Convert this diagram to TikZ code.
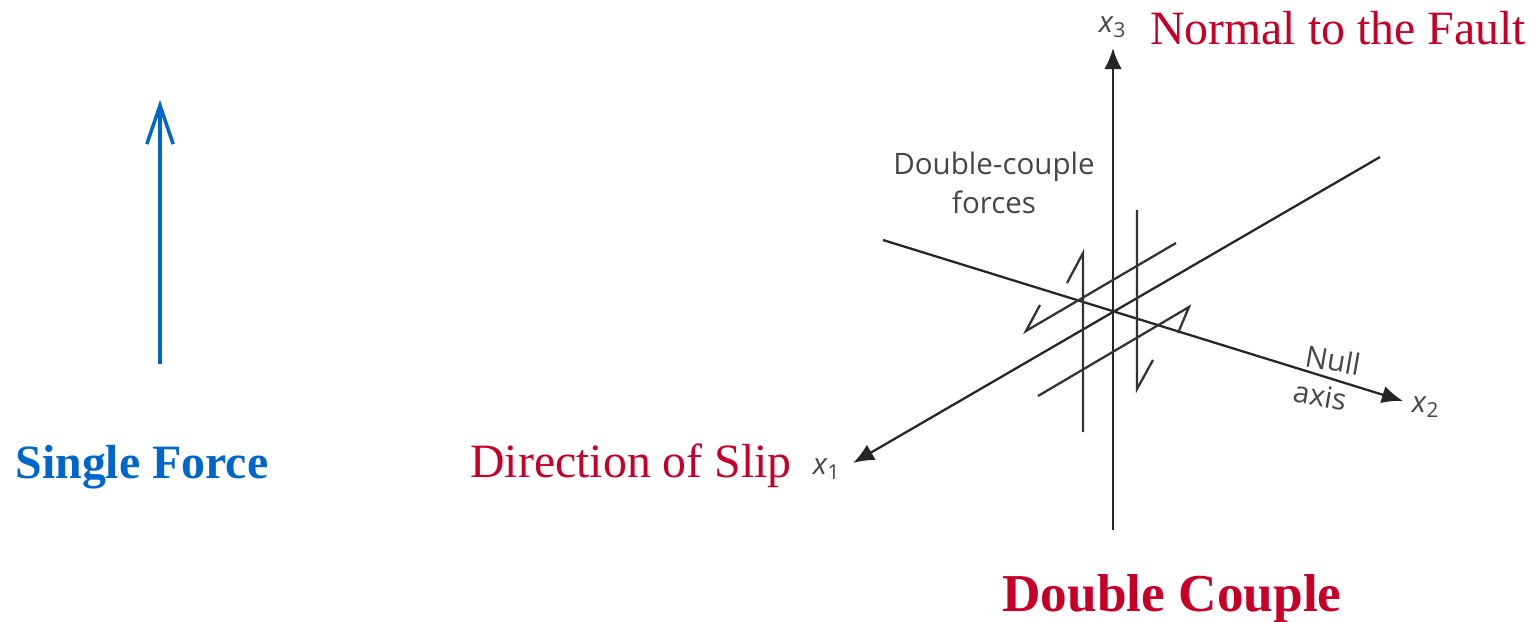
\documentclass[tikz,border=0pt]{standalone}
\usepackage{fontspec}
\usetikzlibrary{arrows.meta}
\setmainfont{Liberation Serif}
\setsansfont{Open Sans}
\definecolor{faultred}{RGB}{200,0,40}
\definecolor{forceblue}{RGB}{0,102,204}
\definecolor{sketchgray}{RGB}{70,70,70}
\tikzset{
  axisline/.style={line width=0.65pt, black!85, -{Latex[length=6pt,width=5pt]}},
  coupleline/.style={line width=0.65pt, black!80},
  redlabel/.style={text=faultred, font=\fontsize{13.6}{16}\selectfont, inner sep=0pt},
  graylabel/.style={text=sketchgray, font=\sffamily\fontsize{8.4}{10.2}\selectfont, inner sep=0pt, align=center},
}
\begin{document}
\begin{tikzpicture}[x=0.01cm, y=-0.01cm]
  \useasboundingbox (0, 0) rectangle (1539, 621);
  % single force
  \coordinate (ftail) at (160, 364);
  \coordinate (fhead) at (160, 100);
  \draw[line width=1pt, forceblue, -{Straight Barb[length=11pt,width=7.5pt,line width=1pt]}] (ftail) -- (fhead);
  \node[text=forceblue, font=\bfseries\fontsize{13.6}{16}\selectfont, inner sep=0pt] (single) at (142, 467) {Single Force};
  % axes
  \coordinate (xone) at (853, 463);
  \coordinate (xoneend) at (1380, 157);
  \coordinate (xtwo) at (1403, 401);
  \coordinate (xtwoend) at (883, 240);
  \coordinate (xthree) at (1113, 48);
  \coordinate (xthreeend) at (1113, 530);
  \draw[axisline] (xoneend) -- (xone);
  \draw[axisline] (xtwoend) -- (xtwo);
  \draw[axisline] (xthreeend) -- (xthree);
  % double couple forces
  \coordinate (la) at (1083, 432);
  \coordinate (lb) at (1083, 253);
  \coordinate (lc) at (1067, 283);
  \coordinate (ra) at (1137, 210);
  \coordinate (rb) at (1137, 389);
  \coordinate (rc) at (1153, 360);
  \coordinate (ua) at (1176, 243);
  \coordinate (ub) at (1026, 331);
  \coordinate (uc) at (1040, 305);
  \coordinate (da) at (1038, 396);
  \coordinate (db) at (1189, 307);
  \coordinate (dc) at (1178, 333);
  \foreach \a/\b/\c in {la/lb/lc, ra/rb/rc, ua/ub/uc, da/db/dc} {
    \draw[coupleline] (\a) -- (\b) -- (\c);
  }
  % labels
  \node[graylabel] (forces) at (994, 183) {Double-couple\\[1pt]forces};
  \node[graylabel, rotate=-10] (null) at (1333, 360) {Null};
  \node[graylabel, rotate=-10] (axis) at (1320, 396) {axis};
  \node[graylabel] (xonelabel) at (827, 469) {\textit{x}\textsubscript{1}};
  \node[graylabel] (xtwolabel) at (1426, 407) {\textit{x}\textsubscript{2}};
  \node[graylabel] (xthreelabel) at (1113, 27) {\textit{x}\textsubscript{3}};
  \node[redlabel] (normal) at (1338, 28) {Normal to the Fault};
  \node[redlabel] (slip) at (631, 466) {Direction of Slip};
  \node[text=faultred, font=\bfseries\fontsize{15.15}{18}\selectfont, inner sep=0pt] (couple) at (1172, 599) {Double Couple};
\end{tikzpicture}
\end{document}
